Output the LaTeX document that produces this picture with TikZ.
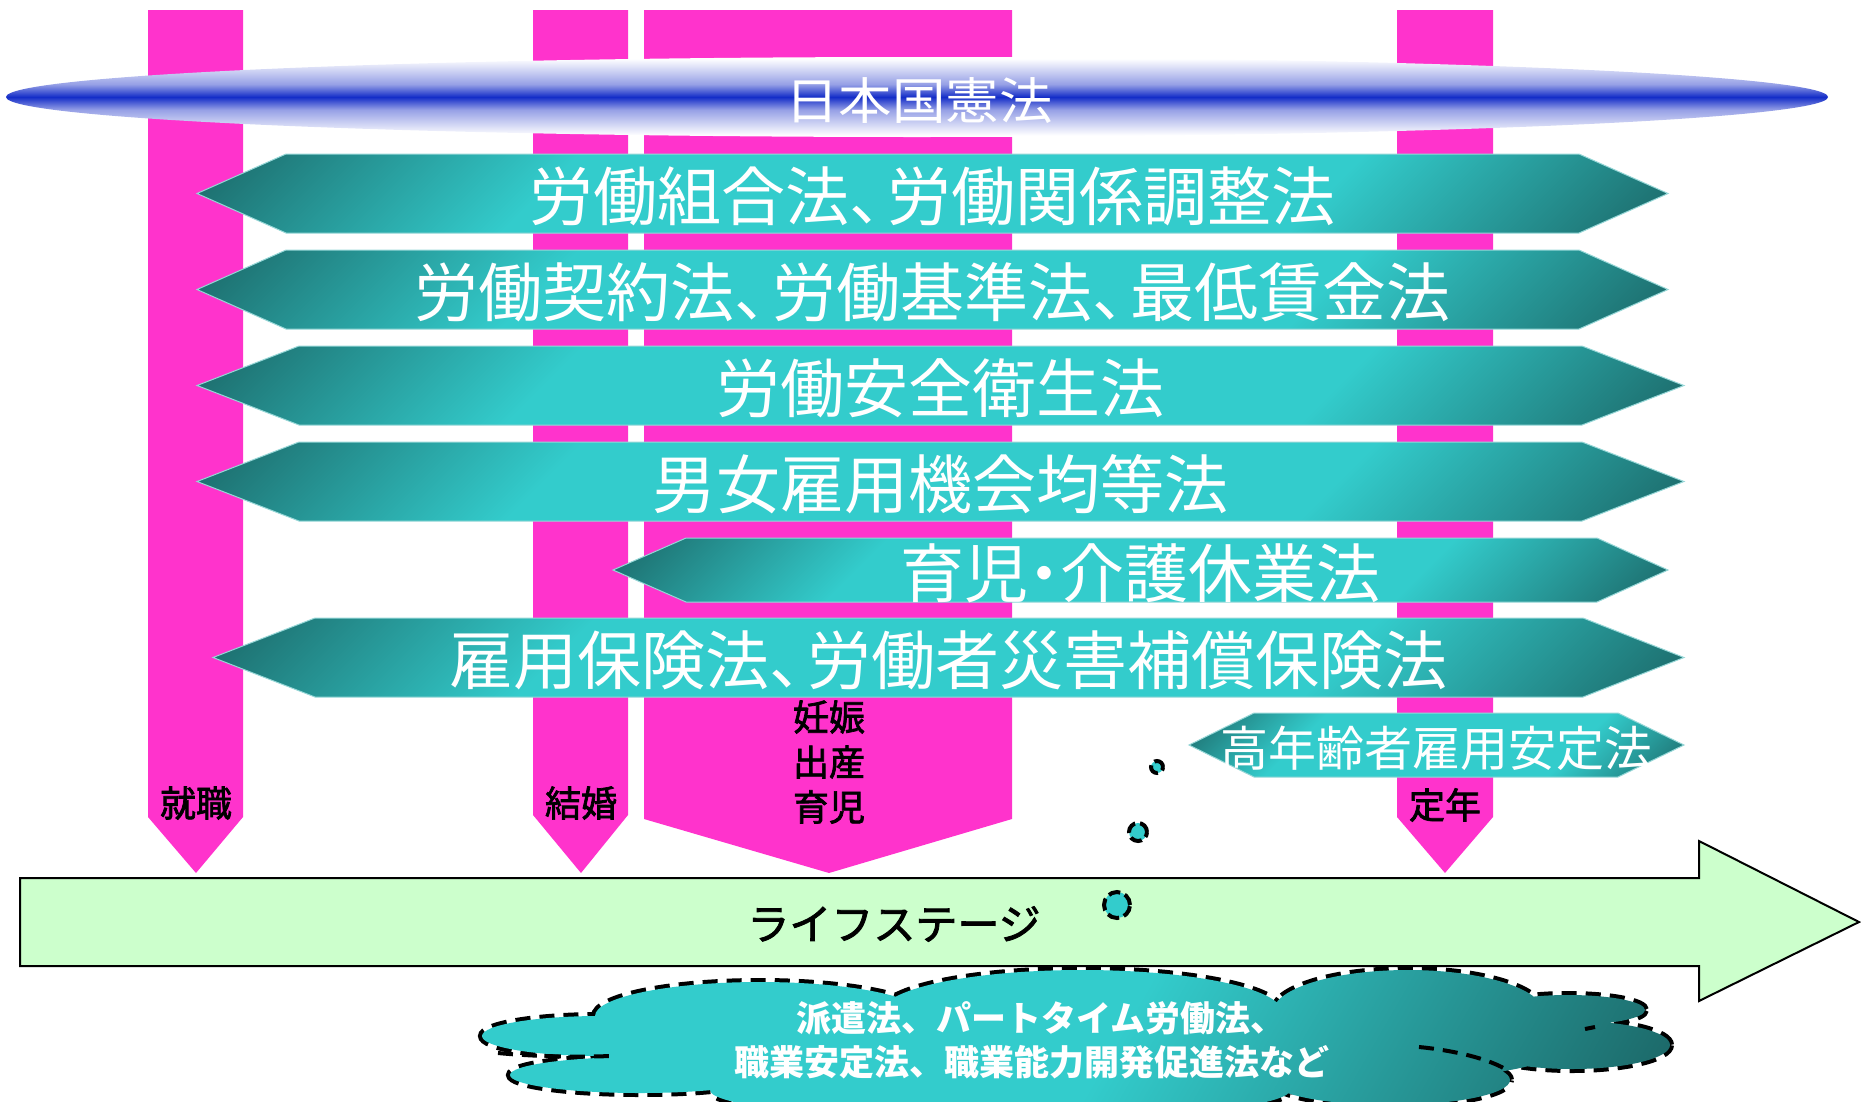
\documentclass[tikz,border=0pt]{standalone}
\usepackage{fontspec}
\usepackage{graphicx}
\newfontfamily\jp{Noto Sans CJK JP}
\newfontfamily\jpm{Noto Sans CJK JP}[FakeBold=2]
\newcommand\tn{、\kern-0.4em}
\newcommand\nk{\kern-0.25em・\kern-0.25em}
\definecolor{pinkc}{RGB}{255,51,204}
\definecolor{tD}{RGB}{27,100,100}
\definecolor{tB}{RGB}{51,204,204}
\definecolor{tL}{RGB}{150,215,215}
\definecolor{lgreen}{RGB}{204,255,204}
\definecolor{eblue}{RGB}{20,45,200}
\definecolor{elite}{RGB}{150,160,230}
\pgfdeclareverticalshading{bannersh}{100bp}{color(0bp)=(tD); color(14bp)=(tD); color(32bp)=(tB); color(68bp)=(tB); color(86bp)=(tD); color(100bp)=(tD)}
\pgfdeclareverticalshading{ellsh}{100bp}{color(0bp)=(white); color(26bp)=(white); color(42bp)=(elite); color(50bp)=(eblue); color(58bp)=(elite); color(74bp)=(white); color(100bp)=(white)}
\pgfdeclarehorizontalshading{cloudsh}{100bp}{color(0bp)=(tB); color(52bp)=(tB); color(84bp)=(tD); color(100bp)=(tD)}
\tikzset{
  every node/.style={inner sep=0pt},
  pinkbar/.style={fill=pinkc},
  banner/.style={shading=bannersh, shading angle=45, draw=tL, line width=1pt},
  bannertext/.style={text=white, font=\jp\fontsize{64}{70}\selectfont},
  lab/.style={text=black, font=\jpm\fontsize{36}{45}\selectfont},
  cloudline/.style={draw=black, dash pattern=on 15pt off 9pt, line width=8pt},
  innerline/.style={draw=black, dash pattern=on 15pt off 9pt, line width=4pt},
  cloudtext/.style={text=white, font=\jp\bfseries\fontsize{35}{40}\selectfont},
  bubble/.style={fill=tB, draw=black, line width=4pt, dash pattern=on 12pt off 5pt},
}
\begin{document}
\begin{tikzpicture}[x=1pt,y=-1pt]
\useasboundingbox (0,0) rectangle (1861,1101);
\clip (0,0) rectangle (1861,1101);
% pink life-event bars
\fill[pinkbar] (148,10) -- (243,10) -- (243,817) -- (196,873) -- (148,817) -- cycle;
\fill[pinkbar] (533,10) -- (628,10) -- (628,815) -- (581,873) -- (533,815) -- cycle;
\fill[pinkbar] (644,10) -- (1012,10) -- (1012,819) -- (829,873) -- (644,819) -- cycle;
\fill[pinkbar] (1397,10) -- (1493,10) -- (1493,817) -- (1445,873) -- (1397,817) -- cycle;
% constitution ellipse
\shade[shading=ellsh] (917,97) ellipse [x radius=911pt, y radius=40pt];
\node[text=white, font=\jp\fontsize{50}{54}\selectfont] (kenpo) at (919,101) {\scalebox{1.07}[1]{日本国憲法}};
% banners
\shadedraw[banner] (197,193.5) -- (286,154) -- (1579,154) -- (1668,193.5) -- (1579,233) -- (286,233) -- cycle;
\shadedraw[banner] (197,289.5) -- (286,250) -- (1579,250) -- (1668,289.5) -- (1579,329) -- (286,329) -- cycle;
\shadedraw[banner] (197,385.5) -- (299,346) -- (1582,346) -- (1684,385.5) -- (1582,425) -- (299,425) -- cycle;
\shadedraw[banner] (197,481.5) -- (299,442) -- (1582,442) -- (1684,481.5) -- (1582,521) -- (299,521) -- cycle;
\shadedraw[banner] (613,570) -- (686,538) -- (1597,538) -- (1668,570) -- (1597,602) -- (686,602) -- cycle;
\shadedraw[banner] (213,657.5) -- (315,618) -- (1583,618) -- (1684,657.5) -- (1583,697) -- (315,697) -- cycle;
\shadedraw[banner] (1189,745) -- (1254,713) -- (1618,713) -- (1684,745) -- (1618,777) -- (1254,777) -- cycle;
\node[bannertext] (b1) at (932.5,196.5) {労働組合法\tn 労働関係調整法};
\node[bannertext] (b2) at (932.5,292.5) {労働契約法\tn 労働基準法\tn 最低賃金法};
\node[bannertext] (b3) at (940.5,388.5) {労働安全衛生法};
\node[bannertext] (b4) at (940.5,484.5) {男女雇用機会均等法};
\node[bannertext] (b5) at (1140.5,573) {育児\nk 介護休業法};
\node[bannertext] (b6) at (948.5,660.5) {雇用保険法\tn 労働者災害補償保険法};
\node[text=white, font=\jp\fontsize{48}{50}\selectfont] (b7) at (1436,748) {高年齢者雇用安定法};
% bar labels
\node[lab] (shu) at (196,803) {就職};
\node[lab] (kek) at (581,803) {結婚};
\node[lab] (nin) at (829,717) {妊娠};
\node[lab] (shus) at (829,762) {出産};
\node[lab] (iku) at (829,807) {育児};
\node[lab] (tei) at (1445,805) {定年};
% life stage arrow
\draw[fill=lgreen, line width=2pt] (20,878) -- (1699,878) -- (1699,841) -- (1859,922) -- (1699,1001) -- (1699,966) -- (20,966) -- cycle;
\node[text=black, font=\jpm\fontsize{42}{46}\selectfont] (life) at (894,924) {ライフステージ};
% cloud
\foreach \cx/\cy/\rx/\ry in {600/1036/118/20, 640/1075/130/18, 760/1016/165/34, 1082/1012/200/42, 1408/1012/135/42, 1568/1010/77/15, 1572/1045/98/24, 1000/1090/290/30, 1390/1080/120/25}
  \draw[cloudline] (\cx,\cy) ellipse [x radius=\rx pt, y radius=\ry pt];
\shade[shading=cloudsh, shading angle=-30]
  (1080,1050) ellipse [x radius=480pt, y radius=45pt]
  (600,1036) ellipse [x radius=118pt, y radius=20pt]
  (640,1075) ellipse [x radius=130pt, y radius=18pt]
  (760,1016) ellipse [x radius=165pt, y radius=34pt]
  (1082,1012) ellipse [x radius=200pt, y radius=42pt]
  (1408,1012) ellipse [x radius=135pt, y radius=42pt]
  (1568,1010) ellipse [x radius=77pt, y radius=15pt]
  (1572,1045) ellipse [x radius=98pt, y radius=24pt]
  (1000,1090) ellipse [x radius=290pt, y radius=30pt]
  (1390,1080) ellipse [x radius=120pt, y radius=25pt];
\draw[innerline] (498,1053) .. controls (540,1057) and (580,1057) .. (612,1056);
\draw[innerline] (1419,1047) .. controls (1450,1050) and (1490,1058) .. (1510,1072);
\draw[innerline] (1585,1029) -- (1595,1027);
\node[cloudtext] (c1) at (1041,1018) {派遣法、パートタイム労働法、};
\node[cloudtext] (c2) at (1032,1062) {職業安定法、職業能力開発促進法など};
% thought bubbles
\draw[bubble] (1157,767) circle [radius=6pt];
\draw[bubble] (1138,832) circle [radius=9pt];
\draw[bubble] (1117,905) circle [radius=13pt];
\end{tikzpicture}
\end{document}
